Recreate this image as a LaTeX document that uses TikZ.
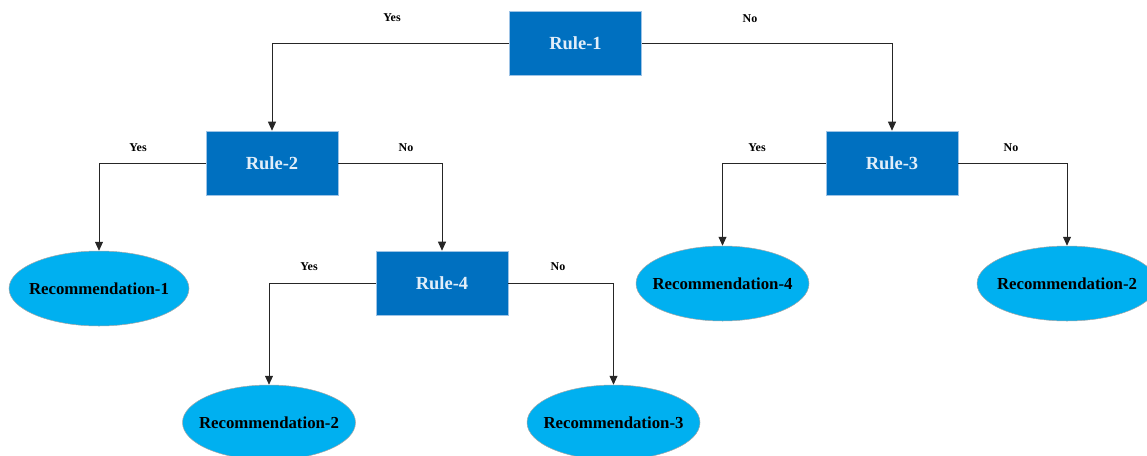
\documentclass[tikz,border=0pt]{standalone}
\usepackage{fontspec}
\setmainfont{Liberation Serif}
\usetikzlibrary{arrows.meta,shapes.geometric}
\definecolor{rulefill}{HTML}{0070C0}
\definecolor{ruleedge}{HTML}{9DC3E6}
\definecolor{rectext}{HTML}{00B0F0}
\definecolor{ruletext}{HTML}{E2EEF9}
% ellipse size is fixed by minimum width/height, not by the label
\newcommand{\reclabel}[1]{\makebox[0pt]{#1}}
\begin{document}
\begin{tikzpicture}[x=1pt,y=-1pt,
  rulebox/.style={rectangle,draw=ruleedge,line width=0.6pt,fill=rulefill,
    minimum width=132pt,minimum height=64pt,inner sep=0pt,
    text=ruletext,font=\bfseries\fontsize{18.5}{20}\selectfont},
  recbox/.style={ellipse,draw=gray!70,line width=0.5pt,fill=rectext,
    minimum width=173pt,minimum height=75pt,inner sep=0pt,
    font=\bfseries\fontsize{16.8}{18}\selectfont},
  conn/.style={draw=black!85,line width=0.8pt,-{Triangle[length=9pt,width=8pt]}},
  lbl/.style={font=\bfseries\fontsize{12}{14}\selectfont,inner sep=0pt}]
\useasboundingbox (0,0) rectangle (1147,455);

% decision rules
\node[rulebox] (r1) at (575.5,43) {Rule-1};
\node[rulebox] (r2) at (272,163) {Rule-2};
\node[rulebox] (r3) at (892,163) {Rule-3};
\node[rulebox] (r4) at (442,283) {Rule-4};

% recommendations
\node[recbox,minimum width=180pt] (c1) at (99,288.5) {\reclabel{Recommendation-1}};
\node[recbox] (c4) at (722.5,283.5) {\reclabel{Recommendation-4}};
\node[recbox,minimum width=180pt] (c2r) at (1067,283.5) {\reclabel{Recommendation-2}};
\node[recbox] (c2) at (269,422.5) {\reclabel{Recommendation-2}};
\node[recbox] (c3) at (613.5,422.5) {\reclabel{Recommendation-3}};

% branches
\draw[conn] (r1.west) -| (r2.north);
\draw[conn] (r1.east) -| (r3.north);
\draw[conn] (r2.west) -| (c1.north);
\draw[conn] (r2.east) -| (r4.north);
\draw[conn] (r3.west) -| (c4.north);
\draw[conn] (r3.east) -| (c2r.north);
\draw[conn] (r4.west) -| (c2.north);
\draw[conn] (r4.east) -| (c3.north);

% branch labels
\node[lbl] (y1) at (392,18) {Yes};
\node[lbl] (n1) at (750,19) {No};
\node[lbl] (y2) at (138,148) {Yes};
\node[lbl] (n2) at (406,148) {No};
\node[lbl] (y3) at (757,148) {Yes};
\node[lbl] (n3) at (1011,148) {No};
\node[lbl] (y4) at (309,267) {Yes};
\node[lbl] (n4) at (558,267) {No};
\end{tikzpicture}
\end{document}
